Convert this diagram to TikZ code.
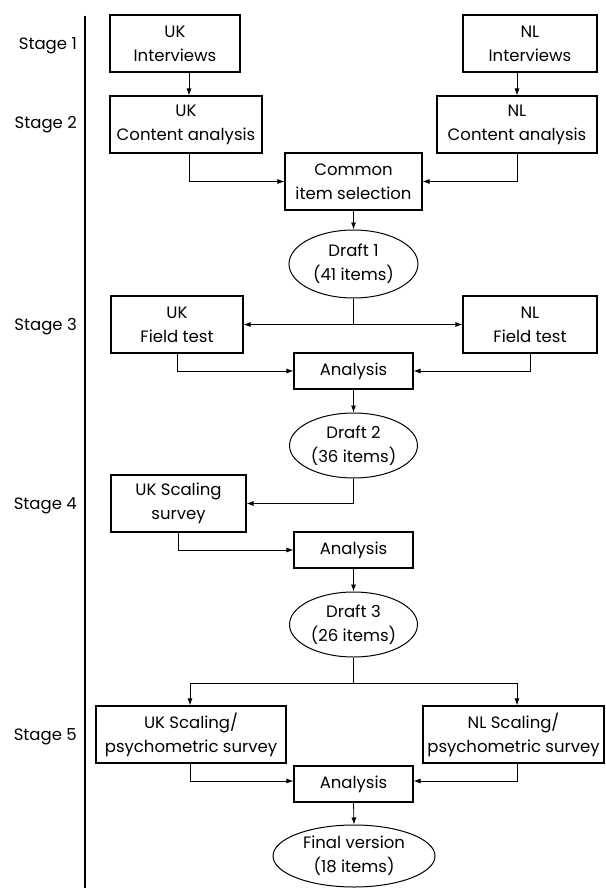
\documentclass[tikz,border=0pt]{standalone}
\usepackage{fontspec}
\setmainfont{Poppins}
\usetikzlibrary{shapes.geometric,arrows.meta,calc}
\begin{document}
\begin{tikzpicture}[x=1pt,y=-1pt,
  every node/.style={font=\fontsize{16.5}{24}\selectfont, inner sep=0pt, align=center},
  box/.style={draw, line width=1.1pt, minimum height=57pt},
  sbox/.style={draw, line width=1.1pt, minimum height=36pt, minimum width=119pt},
  oval/.style={draw, ellipse, line width=1pt},
  stagelbl/.style={anchor=east},
  conn/.style={line width=0.8pt, -{Latex[length=7pt,width=5pt]}},
  plain/.style={line width=0.8pt}]
\useasboundingbox (0,0) rectangle (605,888);
% stage axis
\coordinate (axtop) at (85,16);
\coordinate (axbot) at (85,888);
\draw[line width=1.1pt] (axtop) -- (axbot);
\node[stagelbl] (s1) at (77,46) {Stage 1};
\node[stagelbl] (s2) at (77,125) {Stage 2};
\node[stagelbl] (s3) at (77,327) {Stage 3};
\node[stagelbl] (s4) at (77,506) {Stage 4};
\node[stagelbl] (s5) at (77,737) {Stage 5};
% nodes
\node[box, minimum width=130pt] (ukI) at (175,43.5) {UK\\Interviews};
\node[box, minimum width=134pt] (nlI) at (530,43.5) {NL\\Interviews};
\node[box, minimum width=152pt] (ukC) at (186,124.5) {UK\\Content analysis};
\node[box, minimum width=160pt] (nlC) at (517,124.5) {NL\\Content analysis};
\node[box, minimum width=137pt] (com) at (353.5,181.5) {Common\\item selection};
\node[oval, minimum width=129pt, minimum height=68pt] (d1) at (353.5,264) {Draft 1\\(41 items)};
\node[box, minimum width=132pt] (ukF) at (177,324.5) {UK\\Field test};
\node[box, minimum width=134pt] (nlF) at (530,324.5) {NL\\Field test};
\node[sbox] (an1) at (353.5,371) {Analysis};
\node[oval, minimum width=128pt, minimum height=65pt] (d2) at (353.5,445.5) {Draft 2\\(36 items)};
\node[box, minimum width=135pt] (ukS) at (178.5,503.5) {UK Scaling\\survey};
\node[sbox] (an2) at (353.5,550) {Analysis};
\node[oval, minimum width=128pt, minimum height=65pt] (d3) at (353.5,624.5) {Draft 3\\(26 items)};
\node[box, minimum width=190pt] (ukP) at (191,734.5) {UK Scaling/\\psychometric survey};
\node[box, minimum width=181pt] (nlP) at (513.5,734.5) {NL Scaling/\\psychometric survey};
\node[sbox] (an3) at (353.5,784) {Analysis};
\node[oval, minimum width=162pt, minimum height=62pt] (fin) at (354,856) {Final version\\(18 items)};
% connectors
\draw[conn] ($(ukC.north |- ukI.south)+(3,0)$) -- ($(ukC.north)+(3,0)$);
\draw[conn] (nlC.north |- nlI.south) -- (nlC.north);
\draw[conn] ($(ukC.south)+(3,0)$) |- (com.west);
\draw[conn] (nlC.south) |- (com.east);
\draw[conn] (com.south) -- (d1.north);
\coordinate (b1) at (d1.south |- ukF.east);
\draw[plain] (d1.south) -- (b1);
\draw[conn] (b1) -- (ukF.east);
\draw[conn] (b1) -- (nlF.west);
\draw[conn] (ukF.south) |- (an1.west);
\draw[conn] (nlF.south) |- (an1.east);
\draw[conn] (an1.south) -- (d2.north);
\draw[conn] (d2.south) |- (ukS.east);
\draw[conn] (ukS.south) |- (an2.west);
\draw[conn] (an2.south) -- (d3.north);
\coordinate (b3) at ($(d3.south)+(0,26)$);
\draw[plain] (d3.south) -- (b3);
\draw[conn] (b3) -| ($(ukP.north)+(-1,0)$);
\draw[conn] (b3) -| ($(nlP.north)+(3.5,0)$);
\draw[conn] ($(ukP.south)+(-1,0)$) |- ($(an3.west)+(0,-3)$);
\draw[conn] ($(nlP.south)+(3.5,0)$) |- ($(an3.east)+(0,-3)$);
\draw[conn] (an3.south) -- (fin.north);
\end{tikzpicture}
\end{document}
